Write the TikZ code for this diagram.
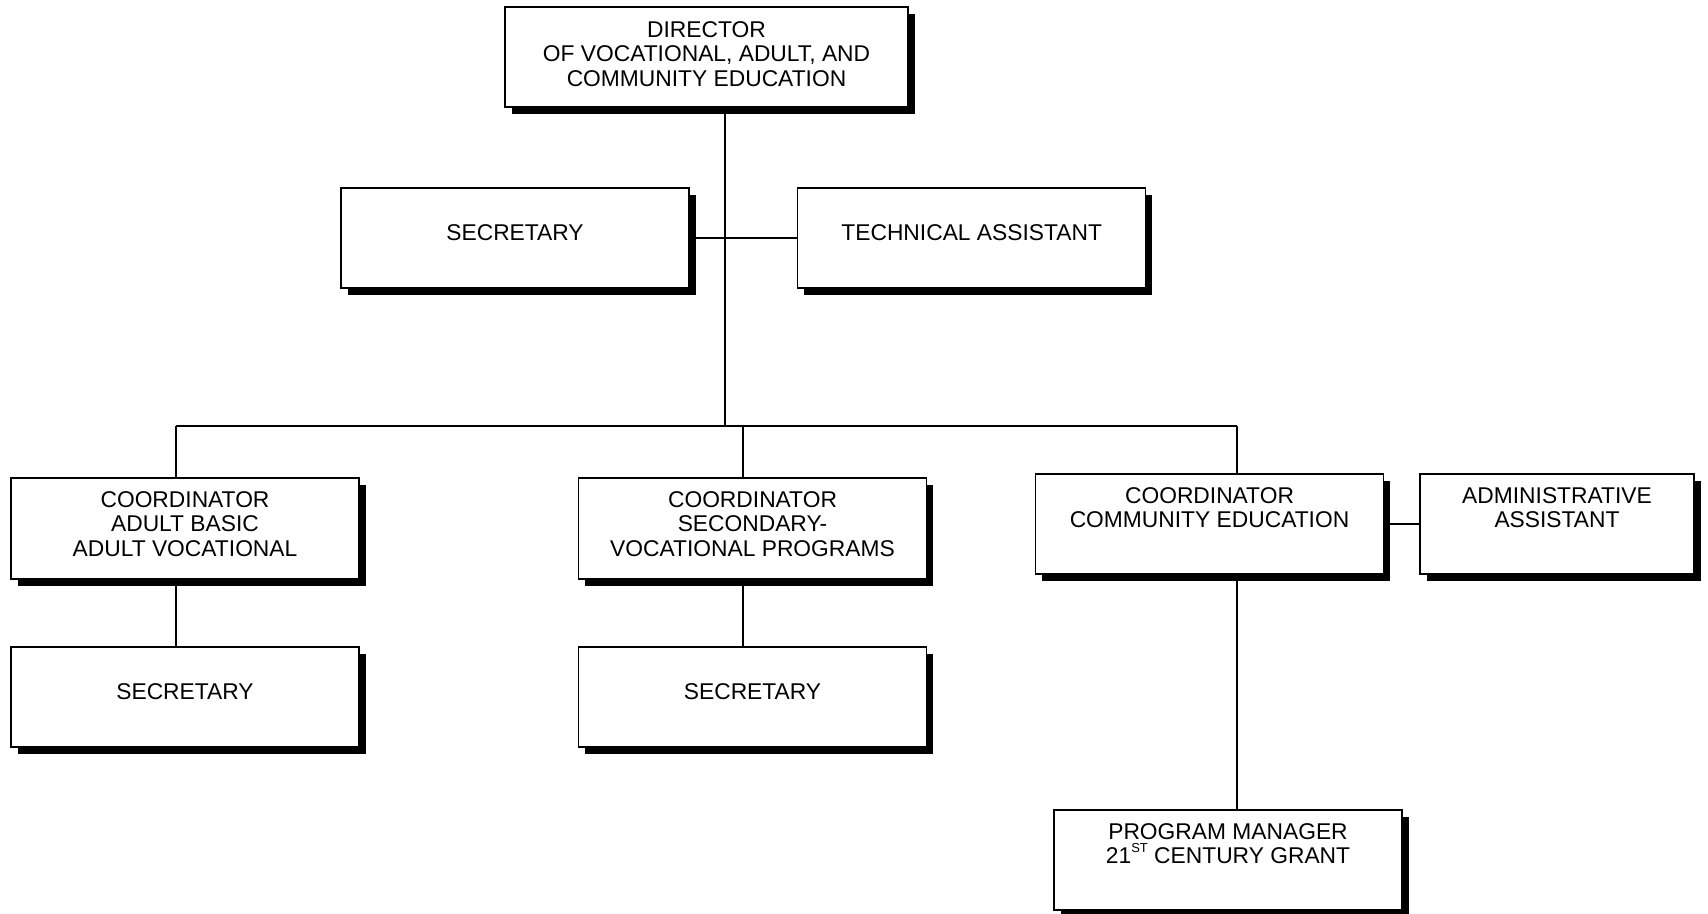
\documentclass[tikz,border=0pt]{standalone}
\usepackage{fontspec}
\setmainfont{Liberation Sans}
\usetikzlibrary{shadows}
\begin{document}
\begin{tikzpicture}[x=1pt,y=-1pt,
  box/.style={draw=black, line width=1.5pt, fill=white, inner sep=0pt,
    minimum width=348pt, minimum height=100pt,
    drop shadow={shadow xshift=6.5pt, shadow yshift=-6.5pt, fill=black, opacity=1}},
  lbl/.style={inner sep=0pt, align=center, font=\fontsize{22.8}{24.5}\selectfont},
  toplbl/.style={lbl, anchor=north},
  link/.style={draw=black, line width=1.8pt}]
\useasboundingbox (0,0) rectangle (1708,913);

% boxes
\node[box, minimum width=403pt] (dir) at (706.5,57) {};
\node[box] (sec1) at (515,238) {};
\node[box] (tech) at (971.7,238) {};
\node[box, minimum height=101pt] (ca) at (185,528.5) {};
\node[box, minimum height=101pt] (cs) at (752.5,528.5) {};
\node[box] (cc) at (1209.5,524) {};
\node[box, minimum width=274pt] (adm) at (1557,524) {};
\node[box] (s2) at (185,697) {};
\node[box] (s3) at (752.5,697) {};
\node[box] (pm) at (1228,860) {};

% labels
\node[toplbl] (dirT) at ([yshift=-15pt]dir.north) {DIRECTOR\\OF VOCATIONAL, ADULT, AND\\COMMUNITY EDUCATION};
\node[lbl] (sec1T) at ([yshift=5pt]sec1.center) {SECRETARY};
\node[lbl] (techT) at ([yshift=5pt]tech.center) {TECHNICAL ASSISTANT};
\node[toplbl] (caT) at ([yshift=-14pt]ca.north) {COORDINATOR\\ADULT BASIC\\ADULT VOCATIONAL};
\node[toplbl] (csT) at ([yshift=-14pt]cs.north) {COORDINATOR\\SECONDARY-\\VOCATIONAL PROGRAMS};
\node[toplbl] (ccT) at ([yshift=-14pt]cc.north) {COORDINATOR\\COMMUNITY EDUCATION};
\node[toplbl] (admT) at ([yshift=-14pt]adm.north) {ADMINISTRATIVE\\ASSISTANT};
\node[lbl] (s2T) at ([yshift=5pt]s2.center) {SECRETARY};
\node[lbl] (s3T) at ([yshift=5pt]s3.center) {SECRETARY};
\node[toplbl] (pmT) at ([yshift=-14pt]pm.north) {PROGRAM MANAGER\\21\raisebox{11pt}{\fontsize{13}{13}\selectfont ST} CENTURY GRANT};

% connectors
\coordinate (busL) at (176,426);
\coordinate (busM) at (743,426);
\coordinate (trunk) at (725,426);
\coordinate (busR) at (1237,426);
\draw[link] (dir.south -| trunk) -- (trunk);
\draw[link] (sec1.east) -- (tech.west);
\draw[link] (busL) -- (busR);
\draw[link] (busL) -- (ca.north -| busL);
\draw[link] (busM) -- (cs.north -| busM);
\draw[link] (busR) -- (cc.north -| busR);
\draw[link] (ca.south -| busL) -- (s2.north -| busL);
\draw[link] (cs.south -| busM) -- (s3.north -| busM);
\draw[link] (cc.south -| busR) -- (pm.north -| busR);
\draw[link] (cc.east) -- (adm.west);
\end{tikzpicture}
\end{document}
